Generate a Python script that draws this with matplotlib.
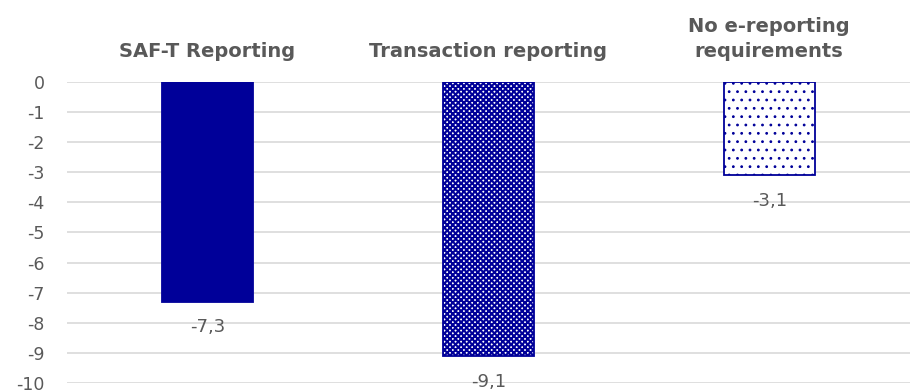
import matplotlib
matplotlib.use("Agg")
import matplotlib.pyplot as plt

categories = ["SAF-T Reporting", "Transaction reporting", "No e-reporting\nrequirements"]
values = [-7.3, -9.1, -3.1]
value_labels = ["-7,3", "-9,1", "-3,1"]
yticks = [0, -1, -2, -3, -4, -5, -6, -7, -8, -9, -10]

navy = "#000099"
grey_text = "#595959"

plt.rcParams["font.family"] = ["DejaVu Sans"]
plt.rcParams["hatch.linewidth"] = 1.0
fig = plt.figure(figsize=(9.11, 3.92), dpi=100)
ax = fig.add_axes([0.0735, 0.023, 0.925, 0.768])

x = list(range(len(categories)))
styles = [
    dict(facecolor=navy, edgecolor=navy, hatch=None),
    dict(facecolor="white", edgecolor=navy, hatch="xxxxxx"),
    dict(facecolor="white", edgecolor=navy, hatch=".."),
]
hatch_lw = [1.0, 1.5, 0.8]
for xi, v, st, hl in zip(x, values, styles, hatch_lw):
    bars = ax.bar(xi, v, width=0.325, linewidth=1.3, zorder=3, **st)
    for b in bars:
        if hasattr(b, "set_hatch_linewidth"):
            b.set_hatch_linewidth(hl)

for xi, v, lab in zip(x, values, value_labels):
    ax.annotate(lab, (xi, v), xytext=(0, -12), textcoords="offset points",
                ha="center", va="top", fontsize=13, color=grey_text)

for xi, cat in zip(x, categories):
    ax.text(xi, 1.07, cat, transform=ax.get_xaxis_transform(), ha="center",
            va="bottom", fontsize=14, fontweight="bold", color=grey_text,
            linespacing=1.4)

ax.set_xlim(-0.5, 2.5)
ax.set_ylim(-10, 0)
ax.set_yticks(yticks)
ax.set_yticklabels([str(t) for t in yticks])
ax.tick_params(axis="y", length=0, labelsize=12.5, labelcolor=grey_text, pad=16)
ax.set_xticks([])
ax.grid(axis="y", color="#d9d9d9", linewidth=1.2, zorder=0)
for s in ax.spines.values():
    s.set_visible(False)

fig.savefig("out.png", dpi=100)
